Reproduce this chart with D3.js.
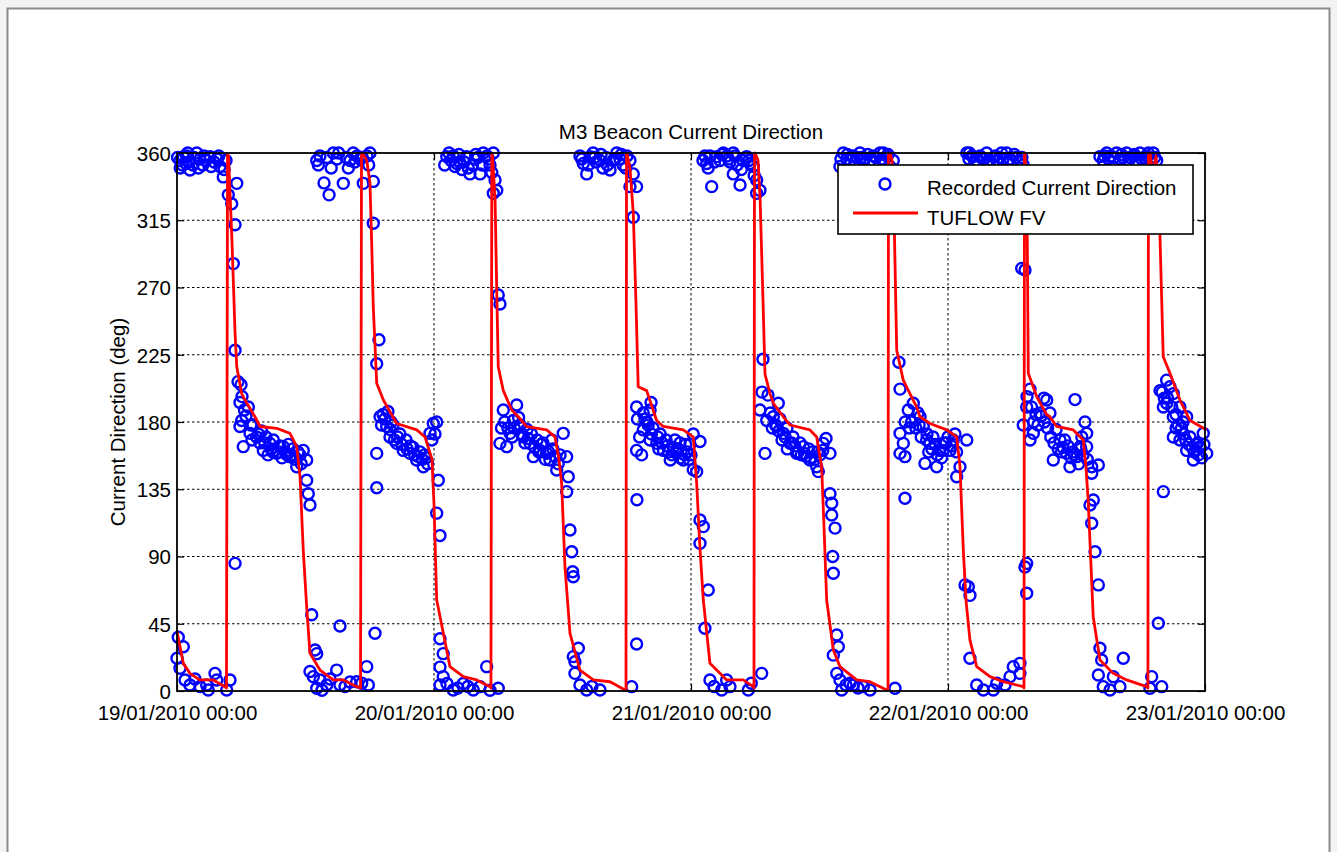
<!DOCTYPE html>
<html>
<head>
<meta charset="utf-8">
<script src="https://cdn.jsdelivr.net/npm/d3@7"></script>
<style>
  html, body { margin: 0; padding: 0; background: #f4f3f1; }
  svg { display: block; }
  text { font-family: "Liberation Sans", Arial, Helvetica, sans-serif; fill: #000; }
</style>
</head>
<body>
<svg id="chart" width="1337" height="852"></svg>
<script>
// ---- DATA ----
const chartTitle = "M3 Beacon Current Direction";
const yLabel = "Current Direction (deg)";
const seriesNames = ["Recorded Current Direction", "TUFLOW FV"];
const startDate = new Date(2010, 0, 19, 0, 0);
const xTickHours = [0, 24, 48, 72, 96];
const xTickLabels = ["19/01/2010 00:00", "20/01/2010 00:00", "21/01/2010 00:00", "22/01/2010 00:00", "23/01/2010 00:00"];
const yTicks = [0, 45, 90, 135, 180, 225, 270, 315, 360];

// Recorded current direction: [hours since 19/01/2010 00:00, degrees]
const recorded = [
  [0.12,36],[0.59,29.6],[0.0,21.9],[0.28,15.2],[0.75,7.4],[1.21,4],[1.68,8],[2.15,3],[2.77,4],[2.92,0.7],[3.55,11.8],[3.71,7.4],[4.64,0.7],[4.95,7.4],
  [0.05,357],[0.28,355],[0.59,357.6],[0.84,353],[1.21,348.6],[1.49,352],[1.84,360],[2.15,356],[2.52,358],[3.08,357.6],[3.46,354],[3.74,356],[4.02,351],[4.32,344],[4.58,355],[4.79,332],[5.11,326],[5.58,339.7],[5.42,312],[5.26,286],[5.42,228],[5.42,85.4],
  [0.3,350],[0.9,358],[1.0,360],[2.4,352],
  [0.5,352],[1.1,354],[1.6,357],[2.0,350],[2.7,355],[3.2,351],[3.9,358],[4.4,349],
  [5.70,207],[5.98,205],[6.07,197],[5.88,193],[6.66,190],[6.04,181],[5.88,177],[6.19,163.5],[6.44,184],[6.82,172.4],[7.10,178],[7.44,170],[7.75,166],[8.06,161],[8.31,170],[8.68,165.7],[8.96,160],[9.31,159],[9.62,164],[9.93,163.5],[10.27,158],[10.55,156.8],[10.83,162],[11.18,150],[11.49,158],[11.79,161],[12.11,154.6],[12.11,141],[12.26,132],[12.42,124.5],
  [7.0,168],[7.9,174],[8.5,158],[9.0,168],[9.8,156],[10.4,165],[11.0,155],[11.6,152],
  [6.3,188],[6.9,178],[7.6,172],[8.2,166],[8.8,162],[9.5,160],[10.1,160],[10.7,158],[11.3,160],
  [12.58,51],[12.89,27.4],[13.05,25],[12.42,13],[12.73,9.6],[13.35,7.4],[13.05,1.8],[13.54,0.5],[13.98,4],[14.29,8],[14.91,14],[15.22,4],[15.22,43.5],[15.69,3],[16.16,6],[16.78,6.2],[17.25,5.2],[17.72,16.3],[17.87,4],[18.49,38.6],
  [13.05,355],[13.35,358],[13.73,340],[14.20,332],[14.60,360],[14.94,356],[15.53,339.7],[15.78,357],[16.16,355],[16.46,360],[16.81,358],[17.09,356],[17.40,339.7],[17.74,358],[18.02,360],[18.33,341],[18.33,313],[18.86,235],[18.65,219],[18.65,159],[18.65,136],
  [13.2,352],[14.0,357],[14.4,350],[15.1,360],[16.0,350],[16.6,354],[17.3,357],[17.9,352],
  [18.96,183.5],[19.24,185],[19.58,177],[19.70,187],[19.89,170],[20.17,178],[20.51,165.7],[20.82,172],[21.13,161],[21.39,168],[21.76,159],[22.04,163],[22.38,154.6],[22.69,160],[23.00,150],[23.25,156],[23.63,172.4],[23.93,179],[24.25,180],[24.09,172],
  [19.4,182],[20.0,180],[20.6,170],[21.5,162],[22.2,158],[22.9,155],[23.4,152],
  [19.1,178],[19.9,175],[20.3,168],[21.0,165],[21.8,164],[22.5,157],[23.1,158],[23.8,168],
  [24.40,141],[24.25,119],[24.56,104],[24.56,35],[24.86,25],[24.56,16],[24.86,9.6],[24.56,4],[25.21,5],[25.80,0.7],[26.24,2],[26.74,5],[27.17,3],[27.67,0.7],[28.30,2.9],[28.92,16.3],[29.23,0.5],[30.00,1.8],
  [25.19,357.6],[25.59,355],[25.96,351],[26.12,353],[26.33,359],[26.61,349],[27.05,357.6],[27.36,346],[27.83,356],[28.30,346],[28.60,360],[28.95,358],[29.23,352],[29.54,360],[29.70,342],[29.86,335],[29.54,333],[30.00,265],[30.16,259],
  [25.4,360],[26.8,354],[27.6,352],[28.1,357],
  [25.0,352],[25.8,358],[26.4,354],[27.2,350],[27.9,359],[28.5,352],[29.1,356],[29.4,347],
  [30.16,165.7],[30.47,188],[30.79,163.5],[31.10,172.4],[31.41,181],[31.72,191.4],[32.04,178],[32.35,170],[32.68,175],[32.97,165.7],[33.28,156.8],[33.62,168],[33.90,161],[34.18,166],[34.52,159],[34.83,154.6],[35.11,162],[35.46,147.9],[35.77,158],[36.07,172.4],[36.39,156.8],[36.54,143.4],[36.39,133.4],[36.70,107.7],[36.86,93.2],[36.95,79.8],[37.01,76.5],
  [30.6,180],[31.3,170],[31.9,183],[32.5,166],[33.1,172],[33.8,160],[34.4,155],[35.0,168],[35.6,152],
  [30.3,176],[30.9,176],[31.5,176],[32.2,172],[32.8,169],[33.4,163],[34.0,165],[34.7,160],[35.3,157],
  [37.48,28.6],[37.01,23],[37.16,19.6],[37.16,11.8],[37.63,4],[38.26,0.7],[38.75,3],[39.50,0.7],[42.46,2.9],[42.92,31.5],
  [37.63,358],[37.94,353],[38.26,346],[38.58,357.6],[38.86,360],[39.14,354],[39.50,355],[39.78,350],[40.06,357],[40.44,348.6],[40.72,355],[41.06,360],[41.37,356],[41.65,352],[42.02,358],[42.30,355],[42.61,346],[42.92,337.5],[42.30,337.5],[42.61,317],[42.95,128],
  [37.8,356],[38.4,352],[39.0,357],[39.6,359],[40.2,352],[40.9,356],[41.5,359],[41.9,350],
  [42.92,190],[43.54,186],[44.18,188],[44.27,193],[42.92,161],[43.39,158],[43.54,174.7],[43.89,180],[44.18,168],[44.46,176],[44.81,165.7],[45.12,172],[45.43,161],[45.68,168],[46.06,154.6],[46.34,163],[46.66,159],[46.97,166],[47.28,154.6],[47.62,160],[47.90,165],[48.21,148],[48.21,172],
  [43.0,182],[43.2,170],[44.0,178],[45.0,162],[45.9,160],[46.5,168],[47.0,156],[47.5,165],[48.0,158],
  [43.7,182],[44.3,172],[44.9,170],[45.3,166],[45.8,164],[46.2,158],[46.8,162],[47.4,158],[47.8,155],
  [48.84,167],[48.53,146.8],[48.84,114.4],[49.15,110],[48.84,98.8],[49.61,67.6],[49.30,42],
  [49.77,7.4],[50.15,3],[50.87,0.7],[51.33,7.4],[51.64,2.9],[53.35,0.7],[53.63,5.2],[54.60,11.8],
  [49.12,355],[49.47,353],[49.77,358],[49.93,337.5],[50.40,357.6],[50.71,355],[51.02,360],[51.36,358],[51.64,354],[51.95,360],[51.95,346],[52.30,352],[52.58,338.6],[52.86,355],[53.20,357.6],[53.51,353],[53.82,351],[54.13,342],[54.44,335],[54.13,333],[54.72,222],[54.91,159],
  [49.3,358],[49.6,350],[50.2,354],[50.9,359],[51.5,356],[52.1,358],[52.7,349],[53.4,355],[53.9,345],
  [54.63,200],[55.19,198],[54.44,188],[55.07,181],[55.69,183.5],[56.15,192.5],[56.00,177],[56.31,182],[56.62,172.4],[56.96,176],[57.25,165.7],[57.53,170],[57.87,159],[58.18,166],[58.49,163.5],[58.74,157],[59.11,154.6],[59.39,160],[59.74,150],[59.89,146.8],[60.05,158],[60.35,165.7],[60.61,169],[60.98,159],
  [55.4,186],[55.9,178],[56.5,168],[57.0,162],[57.7,164],[58.3,158],[59.0,162],[59.6,155],
  [55.6,176],[56.2,174],[56.8,170],[57.4,166],[58.0,160],[58.6,159],[59.2,156],[59.8,160],[60.3,161],
  [60.98,132],[61.14,125.6],[61.14,117.8],[61.45,109],[61.23,90],[61.29,78.8],[61.61,37.5],[61.76,29.6],[61.29,24],
  [61.61,11.8],[61.91,7.4],[62.07,0.7],[62.47,4],[62.85,5.2],[63.16,4],[63.60,2],[64.09,2.9],[64.72,0.7],[67.05,1.8],
  [61.91,351],[62.22,360],[62.57,356],[62.85,355],[63.13,358],[63.50,357],[63.78,360],[64.16,356],[64.72,355],[65.00,358],[65.28,357],[65.65,360],[65.96,360],[66.30,358],[66.58,351],[66.89,355],
  [62.0,356],[62.6,359],[63.3,354],[63.9,357],[64.5,359],[65.1,354],[65.8,356],[66.4,359],
  [67.42,220],[67.52,202],[67.98,129],[67.52,172.4],[67.83,165.7],[67.52,159],[67.98,156.8],[68.29,188],[68.76,192.5],[69.20,186],[69.39,183.5],[69.69,177],[69.85,152.3],[70.04,172],[70.32,165.7],[70.60,170],[70.94,150],[71.25,161],[71.56,161],[71.81,166],[72.19,161],[72.49,168],[72.81,143.4],[72.65,172],[73.12,150],[73.75,168],
  [68.6,180],[69.0,176],[69.5,170],[70.2,160],[70.8,165],[71.4,156],[72.0,170],
  [68.0,180],[68.4,176],[69.3,178],[70.0,168],[70.5,162],[71.0,158],[71.6,166],[72.3,164],[72.8,160],
  [73.59,71],[73.90,69.8],[74.05,64],[74.05,21.9],
  [74.68,4],[75.30,0.7],[76.23,0.7],[76.55,5.2],[77.32,4],[77.79,9.6],[78.10,16.3],[78.72,18.5],[78.72,11.8],[79.19,83],[79.35,85.4],[79.35,65.4],
  [73.75,360],[73.96,356],[74.24,358],[74.36,357.6],[74.71,355],[74.99,358],[75.27,356],[75.61,360],[75.92,355],[76.20,352],[76.55,355],[76.85,357],[77.14,356],[77.48,360],[77.79,356],[78.07,354],[78.35,357],[78.72,355],[79.03,352],[78.88,282.8],[79.19,281.7],
  [74.0,360],[74.5,354],[75.1,357],[75.8,355],[76.4,358],[77.0,360],[77.6,354],[78.2,359],[78.9,357],
  [79.03,178],[79.35,190],[79.38,197],[79.66,168],[79.66,202],[79.97,172.4],[80.22,185],[80.59,186],[80.96,196],[81.22,194.7],[81.52,186],[81.83,154.6],[82.09,175],[82.46,168],[82.74,163],[83.08,159],[83.39,150],[83.67,160],[83.86,195],[84.02,156.8],[84.33,163.5],[84.61,158],[84.79,180],[84.95,172.4],[84.95,163.5],[85.42,150],[86.04,151.2],[85.42,145.7],[85.57,127.8],[85.26,124.5],[85.42,112.2],[85.73,93.2],[86.04,71],[86.19,28.6],[86.35,20.7],[86.04,10.7],
  [79.8,190],[80.4,178],[81.0,180],[81.6,170],[82.3,162],[82.9,168],[83.5,156],[84.2,152],[84.5,170],
  [80.0,180],[80.7,184],[81.3,176],[81.9,166],[82.6,160],[83.2,164],[83.8,158],[84.4,162],[85.0,155],
  [86.50,2.9],[87.13,0.7],[87.44,9.6],[88.06,2.9],[88.37,21.9],[90.86,1.8],[91.02,9.6],[91.96,2.9],[91.64,45.3],[92.11,133.4],
  [86.19,357.6],[86.50,355],[86.82,360],[87.22,358],[87.75,360],[88.06,356],[88.34,357],[88.68,360],[89.00,357],[89.28,358],[89.56,355],[89.93,360],[90.30,357],[90.58,358],[90.86,356],[91.17,360],[91.49,355],
  [86.6,358],[87.0,356],[87.5,357],[88.2,359],[88.9,355],[89.4,359],[90.1,356],[90.7,360],[91.3,357],
  [91.80,201],[92.11,190],[92.42,208],[92.42,192.5],[92.73,203.6],[93.04,199],[93.04,183.5],[93.04,170],[93.29,185],[93.66,190],[93.66,168],[93.94,180],[94.29,183.5],[94.29,161],[94.60,170],[94.91,154.6],[95.16,165],[95.53,163.5],[95.84,172.4],[96.16,159],
  [92.0,200],[92.5,196],[93.5,178],[94.0,172],[94.5,165],[95.0,160],[95.4,158],[95.9,165],
  [92.2,196],[92.9,190],[93.3,176],[93.8,176],[94.2,168],[94.8,163],[95.3,166],[95.7,156]
];

// TUFLOW FV modelled direction: [hours since 19/01/2010 00:00, degrees]
const tuflow = [
  [0,40],[0.59,18.5],[1.21,11.8],[2.10,7.4],[3.39,7.4],[4.48,2.9],[4.62,2],[4.72,359],[4.81,358],[5.14,300],[5.42,240],[5.58,217],[6.04,199],[6.35,194.7],[7.28,183.5],[7.75,177],[9.31,175.8],[10.55,172.4],[11.18,163.5],[11.49,143.4],[11.79,94.3],[12.11,56.4],[12.42,25.2],[13.35,14],[14.60,7.4],[15.53,7.4],[16.78,2.9],[17.14,2],[17.23,359],
  [17.30,360],[17.72,355],[18.02,340],[18.18,300],[18.33,257],[18.65,206],[19.27,194.7],[20.52,179],[22.39,174.7],[23.16,170],[23.81,155],[24.0,125],[24.25,61],[24.87,38.6],[25.49,16.3],[26.74,9.6],[27.99,7.4],[29.23,2.9],[29.32,2],[29.40,359],
  [29.46,358],[29.7,330],[29.88,260],[30.0,217],[30.47,201],[31.26,188],[31.87,183.5],[32.66,176.9],[34.52,174.7],[35.3,170],[35.67,155],[35.92,139],[36.23,83],[36.70,38.6],[37.63,14],[38.88,7.4],[40.44,6.2],[41.84,0.7],[41.93,1],[41.98,359],
  [42.02,360],[42.3,350],[42.61,320],[42.86,260],[43.07,203.6],[43.86,201],[44.79,181],[45.41,177],[47.28,174.7],[48.21,170],[48.53,139],[48.84,95],[49.15,60.9],[49.77,18.5],[50.4,14],[51.33,7.4],[52.88,7.4],[53.82,2.9],[53.88,2],[53.93,359],
  [53.98,360],[54.26,355],[54.45,330],[54.73,260],[54.91,212],[55.38,199],[55.69,192.5],[56.62,183.5],[57.25,178],[59.11,174.7],[59.74,170],[60.2,150],[60.42,110],[60.67,60.9],[61.29,27.4],[61.91,16.3],[63.47,7.4],[64.71,6.2],[66.27,0.7],[66.4,1],[66.44,359],
  [66.58,360],[66.77,355],[66.96,320],[67.21,228],[67.82,208],[69.07,190],[69.38,183.5],[70.32,179],[71.88,174.7],[72.81,170],[73.12,150],[73.43,94.3],[73.69,60],[74.05,34],[74.68,16.3],[75.92,9.6],[77.16,6.2],[79.03,2.9],[79.1,2],[79.14,359],
  [79.19,360],[79.33,340],[79.4,304],[79.5,212.6],[80.28,197],[81.21,185],[81.52,183.5],[82.15,177],[83.7,174.7],[84.63,168],[84.88,150],[85.09,127.8],[85.56,49.7],[86.19,20.7],[87.43,11.8],[88.68,7.4],[90.55,2.9],[90.67,2],[90.72,359],
  [90.86,360],[91.14,345],[91.42,358],[91.6,340],[91.79,306],[92.1,223.7],[92.73,212.6],[93.66,194.7],[94.6,181],[96.16,174.7]
];

// ---- DRAW ----
const svg = d3.select("#chart");
const W = 1337, H = 852;
const m = { left: 177, right: 1205, top: 153, bottom: 691 };
const toDate = h => new Date(startDate.getTime() + h * 3600e3);

// figure panel
svg.append("rect").attr("x", 0).attr("y", 0).attr("width", W).attr("height", H).attr("fill", "#f4f3f1");
svg.append("rect").attr("x", 7.5).attr("y", 8.5).attr("width", 1322).attr("height", 860)
  .attr("fill", "#ffffff").attr("stroke", "#8a8a8a").attr("stroke-width", 2);

const x = d3.scaleTime().domain([toDate(0), toDate(96)]).range([m.left, m.right]);
const y = d3.scaleLinear().domain([0, 360]).range([m.bottom, m.top]);

const xTickDates = xTickHours.map(toDate);
const fmtLabel = d => xTickLabels[xTickHours.indexOf(Math.round((d - startDate) / 3600e3))];

// grid
const grid = svg.append("g");
grid.selectAll("line.hg").data(yTicks.slice(1, -1)).join("line")
  .attr("x1", m.left).attr("x2", m.right).attr("y1", d => y(d)).attr("y2", d => y(d))
  .attr("stroke", "#000").attr("stroke-width", 1).attr("stroke-dasharray", "2.5,2.5");
grid.selectAll("line.vg").data(xTickDates.slice(1, -1)).join("line")
  .attr("y1", m.top).attr("y2", m.bottom).attr("x1", d => x(d)).attr("x2", d => x(d))
  .attr("stroke", "#000").attr("stroke-width", 1).attr("stroke-dasharray", "2.5,2.5");

// axes
const fontSize = "20.5px";
const yAxisL = svg.append("g").attr("transform", `translate(${m.left},0)`)
  .call(d3.axisLeft(y).tickValues(yTicks).tickSizeInner(-7).tickSizeOuter(0).tickPadding(6));
const yAxisR = svg.append("g").attr("transform", `translate(${m.right},0)`)
  .call(d3.axisRight(y).tickValues(yTicks).tickSizeInner(-7).tickSizeOuter(0).tickFormat(""));
const xAxisB = svg.append("g").attr("transform", `translate(0,${m.bottom})`)
  .call(d3.axisBottom(x).tickValues(xTickDates).tickSizeInner(-7).tickSizeOuter(0).tickPadding(14).tickFormat(fmtLabel));
const xAxisT = svg.append("g").attr("transform", `translate(0,${m.top})`)
  .call(d3.axisTop(x).tickValues(xTickDates).tickSizeInner(-7).tickSizeOuter(0).tickFormat(""));
[yAxisL, yAxisR, xAxisB, xAxisT].forEach(g => {
  g.select(".domain").remove();
  g.selectAll(".tick line").attr("stroke", "#000").attr("stroke-width", 1.2);
  g.selectAll("text").attr("font-size", fontSize).attr("font-family", "Liberation Sans, Arial, sans-serif").attr("fill", "#000");
});
yAxisL.selectAll("text").attr("dy", "0.36em");

// recorded points
svg.append("g").selectAll("circle").data(recorded).join("circle")
  .attr("cx", d => x(toDate(d[0]))).attr("cy", d => y(d[1])).attr("r", 5.5)
  .attr("fill", "none").attr("stroke", "#0000ff").attr("stroke-width", 2.4);

// model line
const line = d3.line().x(d => x(toDate(d[0]))).y(d => y(d[1]));
svg.append("path").datum(tuflow).attr("d", line)
  .attr("fill", "none").attr("stroke", "#ff0000").attr("stroke-width", 2.8).attr("stroke-linejoin", "round");

// axes box
svg.append("rect").attr("x", m.left).attr("y", m.top).attr("width", m.right - m.left).attr("height", m.bottom - m.top)
  .attr("fill", "none").attr("stroke", "#000").attr("stroke-width", 1.8);

// title & y-label
svg.append("text").attr("x", (m.left + m.right) / 2).attr("y", 139).attr("text-anchor", "middle")
  .attr("font-size", "20.5px").text(chartTitle);
svg.append("text").attr("transform", `translate(125,${(m.top + m.bottom) / 2}) rotate(-90)`)
  .attr("text-anchor", "middle").attr("font-size", "20.5px").text(yLabel);

// legend
const lg = svg.append("g");
lg.append("rect").attr("x", 838).attr("y", 165).attr("width", 355).attr("height", 69)
  .attr("fill", "#fff").attr("stroke", "#000").attr("stroke-width", 1.6);
lg.append("circle").attr("cx", 885).attr("cy", 184).attr("r", 5.5)
  .attr("fill", "none").attr("stroke", "#0000ff").attr("stroke-width", 2.4);
lg.append("line").attr("x1", 853).attr("x2", 918).attr("y1", 213).attr("y2", 213)
  .attr("stroke", "#ff0000").attr("stroke-width", 2.8);
lg.append("text").attr("x", 927).attr("y", 195).attr("font-size", "20.5px").text(seriesNames[0]);
lg.append("text").attr("x", 927).attr("y", 225).attr("font-size", "20.5px").text(seriesNames[1]);
</script>
</body>
</html>
